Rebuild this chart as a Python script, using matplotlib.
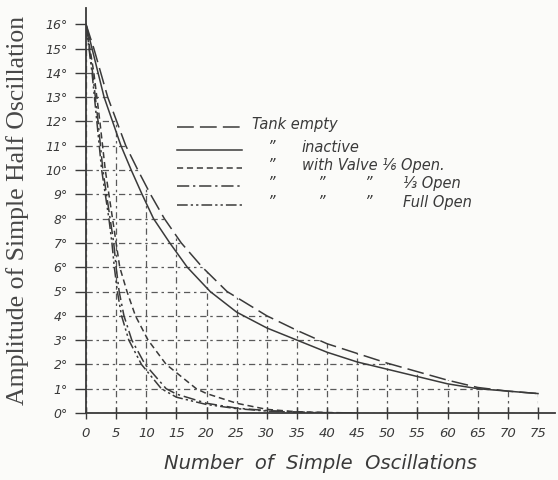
import numpy as np
import matplotlib
matplotlib.use("Agg")
import matplotlib.pyplot as plt
from matplotlib.patches import Polygon

# --- values (x = number of oscillations, y = degrees) ---
tank_x = [0, 1.3, 3.6, 6.6, 8.6, 10.7, 13.0, 15.8, 19.3, 23.4, 30, 35, 40, 45, 50, 55, 60, 65, 70, 75]
tank_y = [16, 15, 13, 11, 10, 9, 8, 7, 6, 5, 4.0, 3.4, 2.85, 2.45, 2.05, 1.7, 1.35, 1.05, 0.9, 0.8]

inactive_x = [0, 1.0, 3.0, 5.8, 7.5, 9.3, 11.2, 13.9, 16.8, 20.6, 25, 30, 35, 40, 45, 50, 55, 60, 65, 70, 75]
inactive_y = [16, 15, 13, 11, 10, 9, 8, 7, 6, 5, 4.15, 3.5, 3.0, 2.5, 2.1, 1.8, 1.5, 1.2, 1.0, 0.9, 0.8]

v16_x = [0, 1.3, 2.3, 3.2, 3.8, 4.4, 5.0, 5.6, 6.8, 8.2, 10.3, 13.3, 18.3, 20, 25, 30, 35, 40, 45]
v16_y = [16, 14, 12, 10, 9, 8, 7, 6, 5, 4, 3, 2, 1, 0.8, 0.4, 0.15, 0.05, 0.02, 0]

v13_x = [0, 1.1, 2.0, 2.8, 3.4, 4.0, 4.6, 5.0, 5.5, 6.3, 7.6, 9.8, 13.3, 15, 20, 25, 30, 35, 40, 45]
v13_y = [16, 14, 12, 10, 9, 8, 7, 6, 5, 4, 3, 2, 1, 0.78, 0.4, 0.2, 0.1, 0.04, 0.01, 0]

vfull_x = [0, 1.0, 1.8, 2.6, 3.2, 3.8, 4.3, 4.7, 5.2, 5.9, 7.1, 9.2, 12.5, 15, 20, 25, 30, 35, 40, 45]
vfull_y = [16, 14, 12, 10, 9, 8, 7, 6, 5, 4, 3, 2, 1, 0.65, 0.35, 0.18, 0.08, 0.03, 0.01, 0]

x_ticks = list(range(0, 80, 5))
y_ticks = list(range(0, 17))

ink = "#3a3a3a"
grid_ink = "#5a5a5a"

fig = plt.figure(figsize=(5.58, 4.80), dpi=100, facecolor="#fbfbf9")
ax = fig.add_axes([86 / 558, 1 - 413 / 480, 469 / 558, 405 / 480])
ax.set_facecolor("none")
ax.set_xlim(0, 469 / 6.027)
ax.set_ylim(0, 405 / 24.3)

curves = [
    (tank_x, tank_y, (0, (11, 4))),
    (inactive_x, inactive_y, "-"),
    (v16_x, v16_y, (0, (4, 2.5))),
    (v13_x, v13_y, (0, (8, 2.5, 1.5, 2.5))),
    (vfull_x, vfull_y, (0, (7, 2, 1.5, 2, 1.5, 2))),
]
for xs, ys, ls in curves:
    ax.plot(xs, ys, color=ink, lw=1.1, ls=ls, zorder=3)

# grid only fills the area under the "tank empty" curve
ax.set_xticks(x_ticks)
ax.set_yticks(y_ticks)
ax.grid(True, color=grid_ink, lw=0.9, ls=(0, (5, 3, 2, 3)))
clip = Polygon(list(zip(tank_x, tank_y)) + [(tank_x[-1], 0), (0, 0)],
               closed=True, transform=ax.transData, facecolor="none", edgecolor="none")
ax.add_patch(clip)
for gl in ax.get_xgridlines() + ax.get_ygridlines():
    gl.set_clip_path(clip)

for s in ["top", "right"]:
    ax.spines[s].set_visible(False)
for s in ["left", "bottom"]:
    ax.spines[s].set_color(ink)
    ax.spines[s].set_linewidth(1.3)

ax.set_xticklabels([str(v) for v in x_ticks], fontstyle="italic", fontsize=9.5, color=ink)
ax.set_yticklabels([f"{v}°" for v in y_ticks], fontstyle="italic", fontsize=9, color=ink)
ax.tick_params(axis="x", direction="inout", length=8, width=1.0, color=ink, pad=6)
ax.tick_params(axis="y", direction="out", length=8, width=1.0, color=ink, pad=5)

ax.set_xlabel("Number  of  Simple  Oscillations", fontstyle="italic", fontsize=14,
              color=ink, labelpad=10)
ax.set_ylabel("Amplitude of Simple Half Oscillation", family="Liberation Serif",
              fontsize=18.5, color="#474747", labelpad=12)

# hand-lettered key
key_rows = [0.706, 0.649, 0.605, 0.560, 0.514]
key_text = [
    [(0.354, "Tank empty")],
    [(0.385, "”"), (0.460, "inactive")],
    [(0.385, "”"), (0.460, "with Valve ⅙ Open.")],
    [(0.385, "”"), (0.492, "”"), (0.592, "”"), (0.676, "⅓ Open")],
    [(0.385, "”"), (0.492, "”"), (0.592, "”"), (0.676, "Full Open")],
]
for (xs, ys, ls), ry, parts in zip(curves, key_rows, key_text):
    ax.plot([0.194, 0.333], [ry, ry], transform=ax.transAxes, color=ink, lw=1.1,
            ls=ls, clip_on=False)
    for tx, s in parts:
        ax.text(tx, ry + 0.006, s, transform=ax.transAxes, fontstyle="italic",
                fontsize=10.5, color=ink, va="center", ha="left")

fig.savefig("out.png", dpi=100, facecolor=fig.get_facecolor())
